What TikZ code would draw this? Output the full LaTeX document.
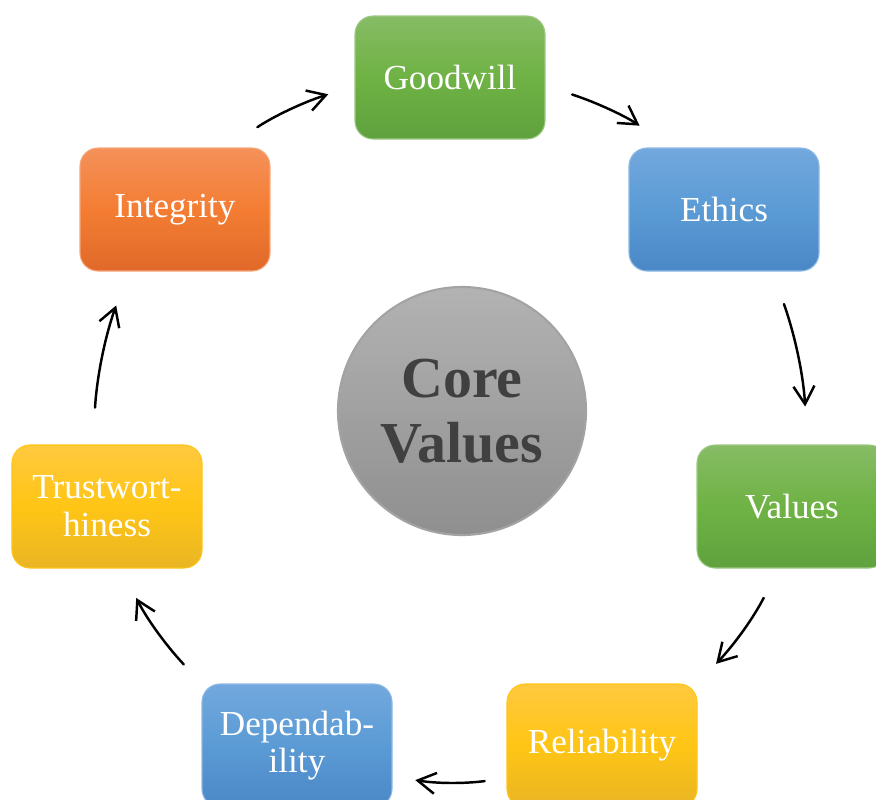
\documentclass[tikz,border=0pt]{standalone}
\usepackage{fontspec}
\setmainfont{Liberation Serif}
\usepackage{tikz}
\usetikzlibrary{arrows.meta}

\definecolor{grnTop}{HTML}{86BC65}
\definecolor{grnMid}{HTML}{6FB244}
\definecolor{grnBot}{HTML}{5FA23E}
\definecolor{bluTop}{HTML}{72A8DD}
\definecolor{bluMid}{HTML}{5B9BD5}
\definecolor{bluBot}{HTML}{4A87C6}
\definecolor{orgTop}{HTML}{F4915A}
\definecolor{orgMid}{HTML}{F47D33}
\definecolor{orgBot}{HTML}{E0692A}
\definecolor{ylwTop}{HTML}{FFC93F}
\definecolor{ylwMid}{HTML}{FFC515}
\definecolor{ylwBot}{HTML}{E9B524}
\definecolor{coreTxt}{HTML}{404040}

\tikzset{
  box/.style={rectangle, rounded corners=0.36cm, minimum width=3.8cm, minimum height=2.46cm,
    align=center, text=white, font=\fontsize{20}{21.5}\selectfont, line width=0.6pt},
  grnbox/.style={box, draw=grnTop!80!white, top color=grnTop, bottom color=grnBot, middle color=grnMid},
  blubox/.style={box, draw=bluTop!80!white, top color=bluTop, bottom color=bluBot, middle color=bluMid},
  orgbox/.style={box, draw=orgTop!80!white, top color=orgTop, bottom color=orgBot, middle color=orgMid},
  ylwbox/.style={box, draw=ylwMid, top color=ylwTop, bottom color=ylwBot, middle color=ylwMid},
  arr/.style={-{Straight Barb[length=3.6mm,width=4.2mm]}, line width=1.4pt, line cap=round, bend left=8}
}

\begin{document}
\begin{tikzpicture}
\useasboundingbox (0,0) rectangle (17.52,-15.98);
\node[circle, minimum size=4.96cm, draw=black!36, line width=1.2pt, top color=black!30, bottom color=black!44,
  text=coreTxt, align=center, font=\bfseries\fontsize{33}{37}\selectfont] (core) at (9.24,-8.22) {Core\\Values};
\node[grnbox] (goodwill) at (9.0,-1.55) {Goodwill};
\node[blubox] (ethics) at (14.48,-4.19) {Ethics};
\node[grnbox] (values) at (15.84,-10.13) {Values};
\node[ylwbox] (reliab) at (12.04,-14.91) {Reliability};
\node[blubox] (depend) at (5.94,-14.91) {Dependab-\\ility};
\node[ylwbox] (trust) at (2.14,-10.13) {Trustwort-\\hiness};
\node[orgbox] (integ) at (3.5,-4.19) {Integrity};
\draw[arr, shorten <=0.73cm, shorten >=0.55cm] (integ.50) to (goodwill.185);
\draw[arr, shorten <=0.56cm, shorten >=0.78cm] (goodwill.-5) to (ethics.130);
\draw[arr, shorten <=0.69cm, shorten >=0.76cm] (ethics.-52) to (values.76);
\draw[arr, shorten <=0.66cm, shorten >=0.54cm] (values.258) to (reliab.north east);
\draw[arr, shorten <=0.44cm, shorten >=0.46cm] (reliab.199) to (depend.-18);
\draw[arr, shorten <=0.52cm, shorten >=0.66cm] (depend.north west) to (trust.-77);
\draw[arr, shorten <=0.74cm, shorten >=0.72cm] (trust.103) to (integ.233);
\end{tikzpicture}
\end{document}
